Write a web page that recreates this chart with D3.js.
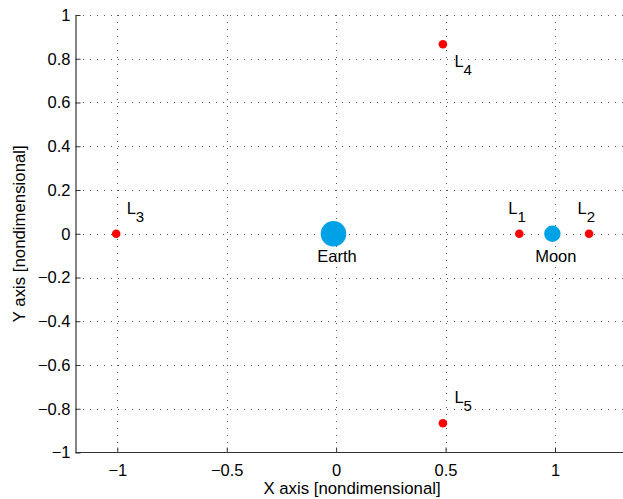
<!DOCTYPE html>
<html>
<head>
<meta charset="utf-8">
<script src="https://cdn.jsdelivr.net/npm/d3@7/dist/d3.min.js"></script>
<style>
  html, body { margin: 0; padding: 0; background: #fff; }
  svg { display: block; font-family: "Liberation Sans", Arial, Helvetica, sans-serif; }
  .tick text { font-size: 16.5px; fill: #000; }
</style>
</head>
<body>
<svg id="chart" width="623" height="499"></svg>
<script>
// Earth–Moon circular restricted three-body problem, rotating frame
const mu = 0.01215;

const bodyNames = ["Earth", "Moon"];
const bodyX = [-mu, 1 - mu];
const bodyY = [0, 0];
const bodySize = [12.8, 8.2];

const lagrangeNames = ["1", "2", "3", "4", "5"];
const lagrangeX = [0.8369, 1.1557, -1.0051, 0.4878, 0.4878];
const lagrangeY = [0, 0, 0, 0.8660, -0.8660];

const xTicks = [-1, -0.5, 0, 0.5, 1];
const yTicks = [-1, -0.8, -0.6, -0.4, -0.2, 0, 0.2, 0.4, 0.6, 0.8, 1];

const svg = d3.select("#chart");
const plotLeft = 75.5, plotTop = 15, plotBottom = 452.5, plotRight = 623;

// equal aspect: one unit = 218.85 px on both axes
const x = d3.scaleLinear().domain([-1, 1]).range([117.3, 555]);
const y = d3.scaleLinear().domain([-1, 1]).range([plotBottom, plotTop]);
// the axes box runs on past the right edge of the page
const axesCentreX = 352;

const fmt = d => d === 0 ? "0" : String(d).replace("-", "\u2212");

// dotted grid
const grid = svg.append("g").attr("stroke", "#555").attr("stroke-width", 1)
  .attr("stroke-dasharray", "1,6").attr("shape-rendering", "crispEdges");
grid.selectAll("line.v").data(xTicks).join("line").attr("class", "v")
  .attr("x1", d => Math.round(x(d)) + 0.5).attr("x2", d => Math.round(x(d)) + 0.5)
  .attr("y1", plotTop).attr("y2", plotBottom);
grid.selectAll("line.h").data(yTicks.filter(d => d !== -1)).join("line").attr("class", "h")
  .attr("y1", d => Math.round(y(d)) + 0.5).attr("y2", d => Math.round(y(d)) + 0.5)
  .attr("x1", plotLeft).attr("x2", plotRight);

// axes (ticks pointing inward)
const xAxis = d3.axisBottom(x).tickValues(xTicks).tickFormat(fmt).tickSizeInner(-5).tickSizeOuter(0).tickPadding(12);
const yAxis = d3.axisLeft(y).tickValues(yTicks).tickFormat(fmt).tickSizeInner(-5).tickSizeOuter(0).tickPadding(5);

const gx = svg.append("g").attr("transform", `translate(0,${plotBottom})`).call(xAxis);
gx.select(".domain").attr("d", `M${plotLeft},0H${plotRight}`);
const gy = svg.append("g").attr("transform", `translate(${plotLeft},0)`).call(yAxis);
[gx, gy].forEach(g => {
  g.select(".domain").attr("stroke", "#333").attr("stroke-width", 1.2);
  g.selectAll(".tick line").attr("stroke", "#333");
});

// axis titles
svg.append("text").attr("x", axesCentreX).attr("y", 494).attr("text-anchor", "middle")
  .attr("font-size", 16.8).text("X axis [nondimensional]");
svg.append("text").attr("transform", `translate(25,${y(0)}) rotate(-90)`)
  .attr("text-anchor", "middle").attr("font-size", 16.8).text("Y axis [nondimensional]");

// primaries
svg.selectAll("circle.body").data(bodyNames).join("circle").attr("class", "body")
  .attr("cx", (d, i) => x(bodyX[i])).attr("cy", (d, i) => y(bodyY[i]))
  .attr("r", (d, i) => bodySize[i]).attr("fill", "#00a2e6");
svg.selectAll("text.body").data(bodyNames).join("text").attr("class", "body")
  .attr("x", (d, i) => x(bodyX[i]) + 3.5).attr("y", (d, i) => y(bodyY[i]) + 28)
  .attr("text-anchor", "middle").attr("font-size", 16.5).text(d => d);

// Lagrange points
svg.selectAll("circle.lp").data(lagrangeNames).join("circle").attr("class", "lp")
  .attr("cx", (d, i) => x(lagrangeX[i])).attr("cy", (d, i) => y(lagrangeY[i]))
  .attr("r", 4.3).attr("fill", "#ff0000");

const labelOffset = [[-11, -19.5], [-11.5, -19.5], [10.5, -19.5], [11.5, 23], [11.5, -20]];
const lbl = svg.selectAll("text.lp").data(lagrangeNames).join("text").attr("class", "lp")
  .attr("x", (d, i) => x(lagrangeX[i]) + labelOffset[i][0])
  .attr("y", (d, i) => y(lagrangeY[i]) + labelOffset[i][1])
  .attr("font-size", 16.5);
lbl.append("tspan").text("L");
lbl.append("tspan").attr("dy", 8).attr("font-size", 15).text(d => d);
</script>
</body>
</html>
